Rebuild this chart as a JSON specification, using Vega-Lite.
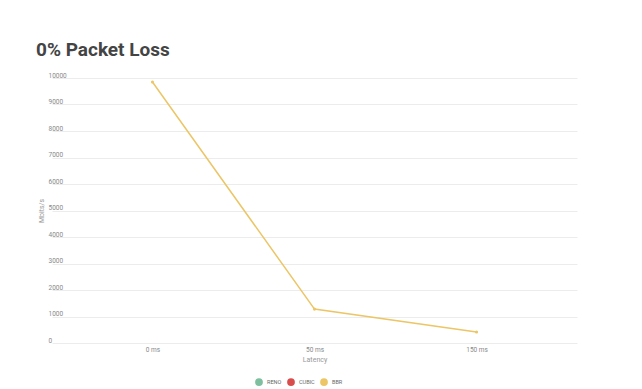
{
  "$schema": "https://vega.github.io/schema/vega-lite/v6.json",
  "autosize": {"type": "none"},
  "padding": {"left": 52, "top": 78, "right": 65, "bottom": 46},
  "width": 525,
  "height": 265,
  "background": "white",
  "title": {
    "text": "0% Packet Loss",
    "anchor": "start",
    "frame": "group",
    "dx": -16,
    "offset": 12,
    "font": "Roboto",
    "fontSize": 19,
    "fontWeight": "bold",
    "color": "#444444"
  },
  "data": {
    "values": [
      {"latency": "0 ms", "mbps": 9850, "algo": "BBR"},
      {"latency": "50 ms", "mbps": 1280, "algo": "BBR"},
      {"latency": "150 ms", "mbps": 415, "algo": "BBR"}
    ]
  },
  "encoding": {
    "x": {
      "field": "latency",
      "type": "nominal",
      "sort": null,
      "scale": {"type": "point", "padding": 0.62},
      "axis": {
        "title": "Latency",
        "labelAngle": 0,
        "labelPadding": 3,
        "titlePadding": 3,
        "domain": false,
        "ticks": false,
        "grid": false
      }
    },
    "y": {
      "field": "mbps",
      "type": "quantitative",
      "scale": {"domain": [0, 10000], "nice": false},
      "axis": {
        "title": "Mbits/s",
        "values": [0, 1000, 2000, 3000, 4000, 5000, 6000, 7000, 8000, 9000, 10000],
        "format": "d",
        "labelAlign": "left",
        "labelBaseline": "bottom",
        "labelPadding": 4,
        "labelDy": -1,
        "titlePadding": 4,
        "domain": false,
        "ticks": false,
        "grid": true
      }
    },
    "color": {
      "field": "algo",
      "type": "nominal",
      "scale": {"domain": ["RENO", "CUBIC", "BBR"], "range": ["#7dbf9f", "#d94c4c", "#ecc666"]},
      "legend": {
        "title": null,
        "orient": "none",
        "direction": "horizontal",
        "legendX": 203,
        "legendY": 300,
        "symbolType": "circle",
        "symbolSize": 60,
        "symbolStrokeWidth": 0,
        "symbolOpacity": 1,
        "labelFont": "Roboto",
        "labelFontSize": 5.5,
        "labelColor": "#666666",
        "columnPadding": 5,
        "labelOffset": 4
      }
    }
  },
  "layer": [
    {"mark": {"type": "line", "strokeWidth": 1.5}},
    {"mark": {"type": "point", "filled": true, "size": 10, "opacity": 1}}
  ],
  "config": {
    "view": {"stroke": null},
    "font": "Roboto",
    "axis": {
      "labelFont": "Roboto",
      "labelFontSize": 6.5,
      "labelColor": "#888888",
      "titleFont": "Roboto",
      "titleFontSize": 7,
      "titleFontWeight": "normal",
      "titleColor": "#999999",
      "gridColor": "#ececec",
      "gridWidth": 1
    }
  }
}
